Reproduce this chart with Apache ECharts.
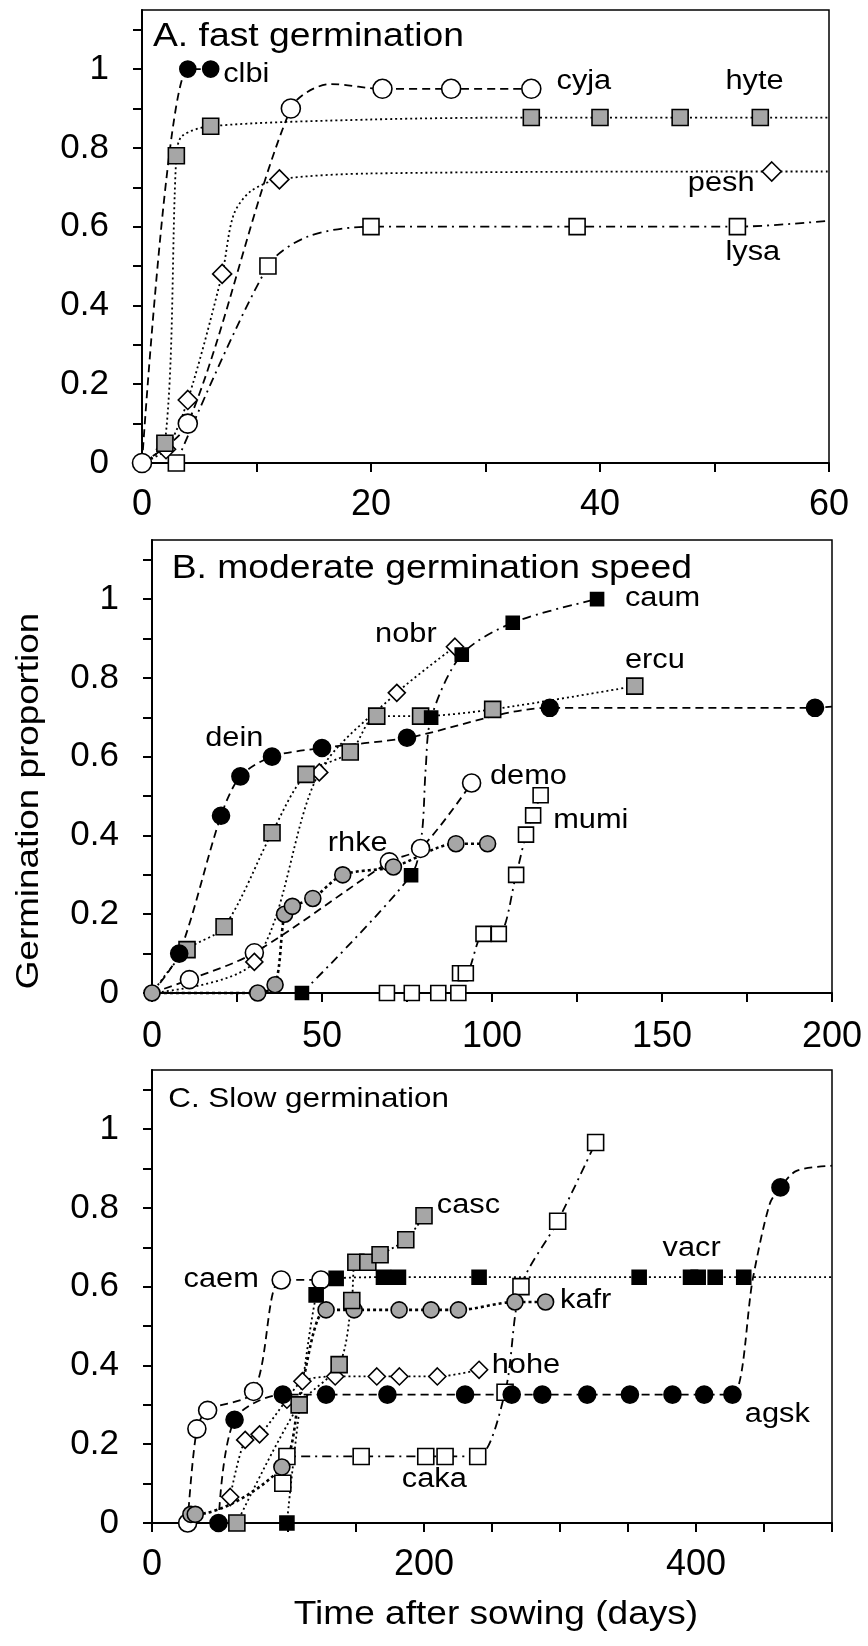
<!DOCTYPE html>
<html><head><meta charset="utf-8">
<script src="https://cdn.jsdelivr.net/npm/echarts@6/dist/echarts.min.js"></script>
<style>html,body{margin:0;padding:0;background:#fff}#c{width:868px;height:1646px}</style>
</head><body><div id="c"></div>
<script>
// ---------- axes ----------
const yTicks = [0,0.1,0.2,0.3,0.4,0.5,0.6,0.7,0.8,0.9,1.0,1.1];
const yLabels = [0,0.2,0.4,0.6,0.8,1];
const xTicksA = [0,10,20,30,40,50,60];
const xLabelsA = [0,20,40,60];
const xTicksB = [0,25,50,75,100,125,150,175,200];
const xLabelsB = [0,50,100,150,200];
const xTicksC = [0,50,100,150,200,250,300,350,400,450,500];
const xLabelsC = [0,200,400];

// ---------- Panel A: fast germination ----------
const clbiPts = [[4,1],[6,1]];
const clbiCurve = [[0,0],[4,1],[6,1]];
const hytePts = [[2,0.05],[3,0.78],[6,0.855],[34,0.877],[40,0.877],[47,0.877],[54,0.877]];
const hyteCurve = [[0,0],[2,0.05],[3,0.78],[3.5,0.83],[6,0.855],[20,0.872],[34,0.877],[40,0.877],[47,0.877],[54,0.877],[60,0.877]];
const cyjaPts = [[0,0],[4,0.1],[13,0.9],[21,0.95],[27,0.95],[34,0.95]];
const cyjaCurve = [[0,0],[4,0.1],[13,0.9],[16.5,0.962],[21,0.95],[27,0.95],[34,0.95]];
const peshPts = [[2.1,0.035],[4,0.16],[7,0.48],[12,0.72],[55,0.74]];
const peshCurve = [[0,0],[2.1,0.035],[4,0.16],[7,0.48],[8,0.63],[9.5,0.69],[12,0.72],[20,0.735],[55,0.74],[60,0.74]];
const lysaPts = [[3,0],[11,0.5],[20,0.6],[38,0.6],[52,0.6]];
const lysaCurve = [[3,0],[11,0.5],[14.5,0.575],[20,0.6],[38,0.6],[52,0.6],[60,0.615]];

// ---------- Panel B: moderate germination speed ----------
const deinPts = [[8,0.1],[20.3,0.45],[26,0.55],[35.3,0.6],[50,0.622],[75,0.648],[117,0.724],[195,0.724]];
const deinCurve = [[0,0],[8,0.1],[20.3,0.45],[26,0.55],[35.3,0.6],[50,0.622],[75,0.648],[117,0.724],[195,0.724],[200,0.727]];
const ercuPts = [[10.3,0.11],[21.2,0.168],[35.3,0.407],[45.3,0.555],[58.3,0.612],[66.1,0.703],[79,0.703],[100.2,0.72],[142,0.779]];
const ercuCurve = [[0,0],[10.3,0.11],[21.2,0.168],[35.3,0.407],[45.3,0.555],[58.3,0.612],[66.1,0.703],[79,0.703],[100.2,0.72],[142,0.779]];
const caumPts = [[44.1,0],[76.2,0.299],[82.1,0.699],[91.1,0.859],[106.1,0.94],[130.9,1.0]];
const caumCurve = [[44.1,0],[76.2,0.299],[79.3,0.4],[80.5,0.57],[82.1,0.699],[91.1,0.859],[106.1,0.94],[130.9,1.0]];
const nobrPts = [[30.1,0.079],[49.2,0.56],[72,0.762],[89.1,0.879]];
const nobrCurve = [[0,0],[30.1,0.079],[49.2,0.56],[72,0.762],[89.1,0.879]];
const demoPts = [[11,0.034],[30.1,0.102],[69.8,0.333],[79,0.367],[94,0.533]];
const demoCurve = [[0,0],[11,0.034],[30.1,0.102],[69.8,0.333],[79,0.367],[94,0.533]];
const rhkePts = [[0,0],[31.1,0],[36.2,0.021],[39,0.2],[41.3,0.22],[47.3,0.24],[56.1,0.3],[71,0.32],[89.4,0.379],[98.7,0.379]];
const rhkeCurve = [[0,0],[31.1,0],[36.2,0.021],[39,0.2],[41.3,0.22],[47.3,0.24],[56.1,0.3],[71,0.32],[89.4,0.379],[98.7,0.379]];
const mumiPts = [[69.1,0],[76.4,0],[84.2,0],[90.1,0],[90.6,0.05],[92.3,0.05],[97.5,0.15],[102,0.15],[107.1,0.3],[110,0.402],[112.1,0.451],[114.3,0.502]];
const mumiCurve = [[69.1,0],[76.4,0],[84.2,0],[90.1,0],[90.6,0.05],[92.3,0.05],[97.5,0.15],[102,0.15],[107.1,0.3],[110,0.402],[112.1,0.451],[114.3,0.502]];

// ---------- Panel C: slow germination ----------
const caemPts = [[26.2,0],[33,0.239],[40.9,0.286],[74.7,0.334],[95,0.617],[124.2,0.617]];
const caemCurve = [[26.2,0],[33,0.239],[40.9,0.286],[74.7,0.334],[95,0.617],[124.2,0.617]];
const kafrPts = [[28.6,0.022],[31.8,0.022],[95.5,0.142],[128,0.541],[148.6,0.541],[181.7,0.541],[205.2,0.541],[225.3,0.541],[266.9,0.561],[289.4,0.561]];
const kafrCurve = [[28.6,0.022],[31.8,0.022],[95.5,0.142],[109,0.33],[128,0.541],[148.6,0.541],[181.7,0.541],[205.2,0.541],[225.3,0.541],[266.9,0.561],[289.4,0.561]];
const agskPts = [[48.9,0],[60.7,0.262],[96.2,0.326],[128,0.326],[173.1,0.326],[230.2,0.326],[264.5,0.326],[287,0.326],[320,0.326],[351.4,0.326],[382.7,0.326],[406,0.326],[426.8,0.326],[462.1,0.852]];
const agskCurve = [[48.9,0],[60.7,0.262],[96.2,0.326],[128,0.326],[173.1,0.326],[230.2,0.326],[264.5,0.326],[287,0.326],[320,0.326],[351.4,0.326],[382.7,0.326],[406,0.326],[426.8,0.326],[442,0.624],[454.2,0.81],[462.1,0.852],[473.9,0.894],[500,0.907]];
const vacrPts = [[99.2,0],[120.7,0.579],[135.4,0.621],[170.2,0.624],[181.2,0.624],[240.5,0.624],[358.2,0.624],[396,0.624],[401.6,0.624],[414.1,0.624],[435.1,0.624]];
const vacrCurve = [[99.2,0],[120.7,0.579],[135.4,0.621],[170.2,0.624],[181.2,0.624],[240.5,0.624],[358.2,0.624],[396,0.624],[401.6,0.624],[414.1,0.624],[435.1,0.624],[500,0.624]];
const cascPts = [[62.4,0],[108.2,0.3],[137.6,0.402],[146.9,0.565],[149.9,0.662],[158.7,0.662],[167.7,0.681],[186.6,0.719],[200,0.78]];
const cascCurve = [[62.4,0],[108.2,0.3],[137.6,0.402],[146.9,0.565],[149.9,0.662],[158.7,0.662],[167.7,0.681],[186.6,0.719],[200,0.78]];
const hohePts = [[57.5,0.066],[68.5,0.211],[79.1,0.225],[99.2,0.313],[110.6,0.36],[134.7,0.372],[165.3,0.372],[181.9,0.372],[209.8,0.372],[240.5,0.389]];
const hoheCurve = [[57.5,0.066],[68.5,0.211],[79.1,0.225],[99.2,0.313],[110.6,0.36],[134.7,0.372],[165.3,0.372],[181.9,0.372],[209.8,0.372],[240.5,0.389]];
const cakaPts = [[96.2,0.101],[99.2,0.169],[153.8,0.169],[201.3,0.169],[215.5,0.169],[239.5,0.169],[259.6,0.332],[271.3,0.6],[298.3,0.766],[326.2,0.966]];
const cakaCurve = [[96.2,0.101],[99.2,0.169],[153.8,0.169],[201.3,0.169],[215.5,0.169],[239.5,0.169],[259.6,0.332],[271.3,0.6],[298.3,0.766],[326.2,0.966]];

// species label anchors (data coordinates)
const labelsA = [['clbi',7.09,0.987],['cyja',36.2,0.968],['hyte',50.96,0.968],['pesh',47.67,0.709],['lysa',50.96,0.533]];
const labelsB = [['caum',139.1,1.002],['nobr',65.6,0.910],['ercu',139.1,0.845],['dein',15.66,0.645],['demo',99.4,0.550],['mumi',118.0,0.438],['rhke',51.7,0.379]];
const labelsC = [['casc',209.4,0.806],['caem',23.2,0.617],['vacr',375.4,0.697],['kafr',300.0,0.564],['hohe',249.8,0.400],['agsk',435.9,0.275],['caka',183.7,0.110]];

// ---------- styling ----------
const FONT = "'Liberation Sans', Arial, Helvetica, sans-serif";
const GREY = '#a6a6a6';
const DASH = [8,5], DOT = [2,3], DOTH = [3,3], DASHDOT = [9,5,2,5];

function lineS(grid, data, dash, width) {
  return {type:'line', xAxisIndex:grid, yAxisIndex:grid, data:data, smooth:0.3, showSymbol:false, symbol:'none',
    clip:false, silent:true, z:2,
    lineStyle:{color:'#000', width:width||1.8, type:dash, cap:'butt'}};
}
function markS(grid, data, symbol, size, fill) {
  return {type:'scatter', xAxisIndex:grid, yAxisIndex:grid, data:data, symbol:symbol, symbolSize:size,
    clip:false, silent:true, z:5,
    itemStyle:{color:fill, borderColor:'#000', borderWidth:1.6, opacity:1}};
}
function labelS(grid, labels) {
  return {type:'custom', xAxisIndex:grid, yAxisIndex:grid, clip:false, silent:true, z:6,
    data:labels.map(l => [l[1], l[2]]),
    renderItem:function(params, api){
      const p = api.coord([api.value(0), api.value(1)]);
      return {type:'text', x:p[0], y:p[1], scaleX:1.14,
        style:{text:labels[params.dataIndex][0], fontSize:27, fontFamily:FONT, fill:'#000', align:'left', verticalAlign:'middle'}};
    }};
}
function xAx(grid, max, ticks, labels, margin) {
  return {type:'value', gridIndex:grid, min:0, max:max,
    axisLine:{show:true, onZero:false, lineStyle:{color:'#000', width:2}},
    axisTick:{show:true, customValues:ticks, length:9, lineStyle:{color:'#000', width:2}},
    axisLabel:{show:true, customValues:labels, fontSize:36, color:'#000', fontFamily:FONT, margin:margin},
    splitLine:{show:false}};
}
function yAx(grid) {
  return {type:'value', gridIndex:grid, min:0, max:1.15,
    axisLine:{show:true, onZero:false, lineStyle:{color:'#000', width:2}},
    axisTick:{show:true, customValues:yTicks, length:9, lineStyle:{color:'#000', width:2}},
    axisLabel:{show:true, customValues:yLabels, fontSize:35, color:'#000', fontFamily:FONT, margin:33},
    splitLine:{show:false}};
}
const gridBase = {show:true, borderColor:'#000', borderWidth:1.5, backgroundColor:'transparent', containLabel:false};

const series = [];
function sp(grid, pts, curve, symbol, size, fill, dash, lw) {
  series.push(lineS(grid, curve, dash, lw));
  series.push(markS(grid, pts, symbol, size, fill));
}
// Panel A
sp(0, lysaPts, lysaCurve, 'rect', 16, '#fff', DASHDOT);
sp(0, peshPts, peshCurve, 'diamond', 19, '#fff', DOT);
sp(0, hytePts, hyteCurve, 'rect', 16, GREY, DOT);
sp(0, cyjaPts, cyjaCurve, 'circle', 19, '#fff', DASH);
sp(0, clbiPts, clbiCurve, 'circle', 16, '#000', DASH);
// Panel B
sp(1, mumiPts, mumiCurve, 'rect', 15, '#fff', DASHDOT);
sp(1, demoPts, demoCurve, 'circle', 18, '#fff', DASH);
sp(1, nobrPts, nobrCurve, 'diamond', 17, '#fff', DOT);
sp(1, rhkePts, rhkeCurve, 'circle', 16, GREY, DOTH, 2.6);
sp(1, ercuPts, ercuCurve, 'rect', 16, GREY, DOT);
sp(1, deinPts, deinCurve, 'circle', 17, '#000', DASH);
sp(1, caumPts, caumCurve, 'rect', 13, '#000', DASHDOT);
// Panel C
sp(2, cakaPts, cakaCurve, 'rect', 16, '#fff', DASHDOT);
sp(2, hohePts, hoheCurve, 'diamond', 17, '#fff', DOT);
sp(2, caemPts, caemCurve, 'circle', 18, '#fff', DASH);
sp(2, kafrPts, kafrCurve, 'circle', 16, GREY, DOTH, 2.6);
sp(2, cascPts, cascCurve, 'rect', 16, GREY, DOT);
sp(2, agskPts, agskCurve, 'circle', 17, '#000', DASH);
sp(2, vacrPts, vacrCurve, 'rect', 14, '#000', DOT);
series.push(labelS(0, labelsA), labelS(1, labelsB), labelS(2, labelsC));

const chart = echarts.init(document.getElementById('c'), null, {renderer:'canvas', width:868, height:1646});
chart.setOption({
  backgroundColor:'#fff',
  animation:false,
  grid:[
    Object.assign({left:142, top:10, width:687, height:453}, gridBase),
    Object.assign({left:152, top:540, width:680, height:453}, gridBase),
    Object.assign({left:152, top:1070, width:680, height:453}, gridBase)
  ],
  xAxis:[xAx(0, 60, xTicksA, xLabelsA, 24), xAx(1, 200, xTicksB, xLabelsB, 26), xAx(2, 500, xTicksC, xLabelsC, 24)],
  yAxis:[yAx(0), yAx(1), yAx(2)],
  graphic:[
    {type:'text', x:153, y:36.5, scaleX:1.13, style:{text:'A. fast germination', fontSize:33, fontFamily:FONT, fill:'#000', align:'left', verticalAlign:'middle'}},
    {type:'text', x:171.7, y:569, scaleX:1.13, style:{text:'B. moderate germination speed', fontSize:33, fontFamily:FONT, fill:'#000', align:'left', verticalAlign:'middle'}},
    {type:'text', x:168.3, y:1099.5, scaleX:1.12, style:{text:'C. Slow germination', fontSize:28, fontFamily:FONT, fill:'#000', align:'left', verticalAlign:'middle'}},
    {type:'text', x:29, y:801, rotation:Math.PI/2, scaleX:1.15, style:{text:'Germination proportion', fontSize:32, fontFamily:FONT, fill:'#000', align:'center', verticalAlign:'middle'}},
    {type:'text', x:496, y:1615, scaleX:1.09, style:{text:'Time after sowing (days)', fontSize:34, fontFamily:FONT, fill:'#000', align:'center', verticalAlign:'middle'}}
  ],
  series:series
});
</script></body></html>
